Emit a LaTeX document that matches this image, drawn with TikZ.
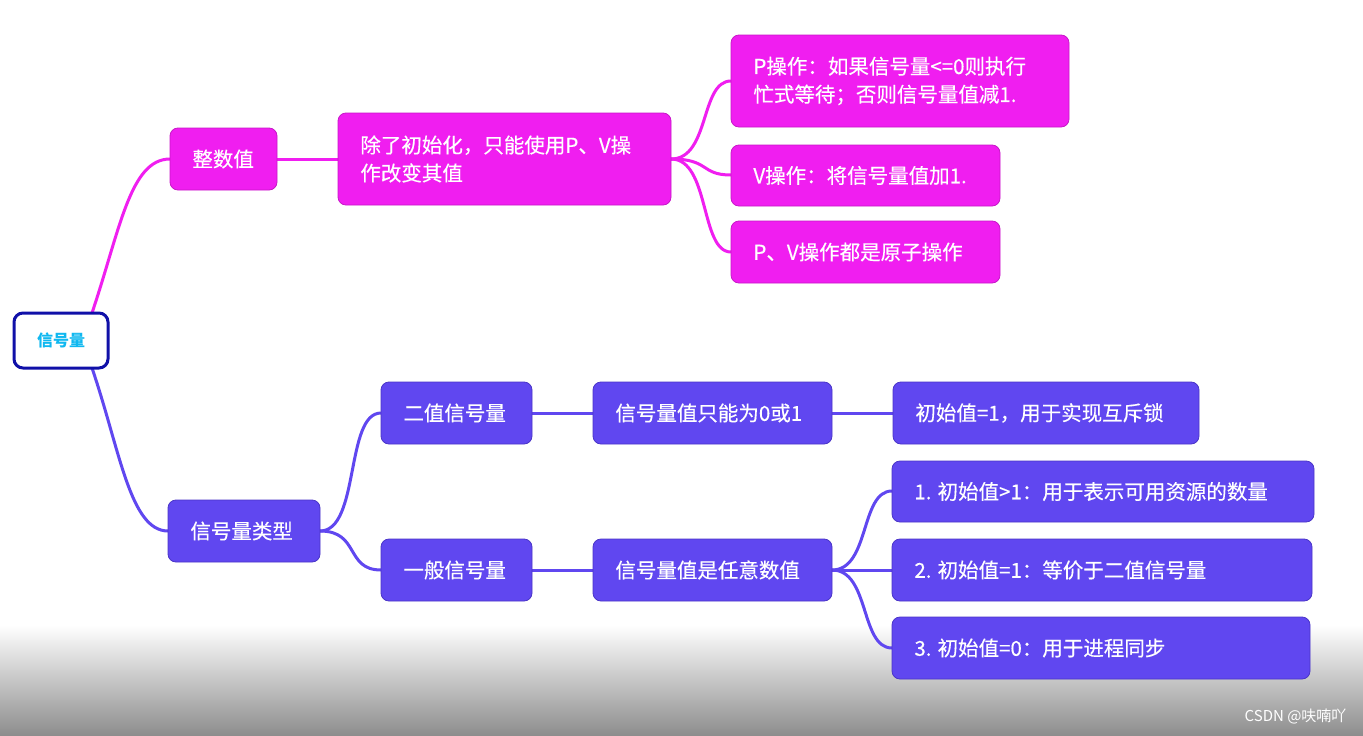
\documentclass[tikz,border=0pt]{standalone}
\usepackage{fontspec}
\setmainfont{Noto Sans CJK SC}
\newfontfamily\boxfont{Noto Sans CJK SC}[FakeBold=0.35]
\usetikzlibrary{fadings}
\definecolor{mag}{HTML}{F01EF0}
\definecolor{magb}{HTML}{C818C8}
\definecolor{pur}{HTML}{6047F0}
\definecolor{purb}{HTML}{4A35C8}
\definecolor{rootb}{HTML}{1010A8}
\definecolor{roott}{HTML}{10B8F0}
\tikzset{
 x=1pt,y=-1pt,
 box/.style={rounded corners=8, text=white, font=\boxfont\fontsize{20.5}{28}\selectfont, align=left, inner xsep=0, inner ysep=0},
 mbox/.style={box, fill=mag, draw=magb, line width=0.8},
 pbox/.style={box, fill=pur, draw=purb, line width=0.8},
 mline/.style={mag, line width=3},
 pline/.style={pur, line width=3},
}
\newcommand{\bx}[7]{% style name x1 y1 x2 y2 text
 \draw[#1] (#3,#4) rectangle (#5,#6);
 \node[#1,draw=none,fill=none,anchor=west,rounded corners=0] (#2) at (#3+22,{(#4+#6)/2}) {#7};
 \coordinate (#2w) at (#3,{(#4+#6)/2});
 \coordinate (#2e) at (#5,{(#4+#6)/2});
}
\begin{document}
\begin{tikzpicture}
\useasboundingbox (0,0) rectangle (1363,736);
\fill[white] (0,0) rectangle (1363,736);
\fill[top color=white, bottom color=black!45] (0,625) rectangle (1363,736);
% connectors
\coordinate (rt) at (92,313);
\coordinate (rb) at (92,368);
\draw[mline] (rt) .. controls (120,230) and (130,159) .. (170,159);
\draw[pline] (rb) .. controls (120,450) and (130,531) .. (168,531);
\draw[mline] (277,159) -- (338,159);
\draw[mline] (671,159) .. controls (710,159) and (700,81) .. (731,81);
\draw[mline] (671,159) .. controls (710,159) and (700,175) .. (731,175);
\draw[mline] (671,159) .. controls (710,159) and (700,252) .. (731,252);
\draw[pline] (320,531) .. controls (360,531) and (345,413) .. (381,413);
\draw[pline] (320,531) .. controls (360,531) and (345,570) .. (381,570);
\draw[pline] (532,413) -- (593,413);
\draw[pline] (832,413) -- (893,413);
\draw[pline] (532,570) -- (593,570);
\draw[pline] (832,570) .. controls (870,570) and (860,491) .. (892,491);
\draw[pline] (832,570) -- (892,570);
\draw[pline] (832,570) .. controls (870,570) and (860,648) .. (892,648);
% root
\draw[rounded corners=9, fill=white, draw=rootb, line width=3] (14,313) rectangle (108,368);
\node[text=roott, font=\fontsize{16}{20}\selectfont\bfseries] (root) at (61,340) {信号量};
% magenta
\bx{mbox}{zs}{170}{128}{277}{190}{整数值}
\bx{mbox}{cl}{338}{113}{671}{205}{除了初始化，只能使用P、V操\\作改变其值}
\bx{mbox}{pp}{731}{35}{1069}{127}{P操作：如果信号量<=0则执行\\忙式等待；否则信号量值减1.}
\bx{mbox}{vv}{731}{145}{1000}{206}{V操作：将信号量值加1.}
\bx{mbox}{pv}{731}{221}{1000}{283}{P、V操作都是原子操作}
% purple
\bx{pbox}{lx}{168}{500}{320}{562}{信号量类型}
\bx{pbox}{ez}{381}{382}{532}{444}{二值信号量}
\bx{pbox}{ez2}{593}{382}{832}{444}{信号量值只能为0或1}
\bx{pbox}{ez3}{893}{382}{1199}{444}{初始值=1，用于实现互斥锁}
\bx{pbox}{yb}{381}{539}{532}{601}{一般信号量}
\bx{pbox}{yb2}{593}{539}{832}{601}{信号量值是任意数值}
\bx{pbox}{a1}{892}{461}{1314}{522}{1. 初始值>1：用于表示可用资源的数量}
\bx{pbox}{a2}{892}{539}{1312}{601}{2. 初始值=1：等价于二值信号量}
\bx{pbox}{a3}{892}{617}{1310}{679}{3. 初始值=0：用于进程同步}
\node[anchor=east, text=white, font=\fontsize{15}{18}\selectfont] (wm) at (1350,716) {CSDN @呋喃吖};
\end{tikzpicture}
\end{document}
